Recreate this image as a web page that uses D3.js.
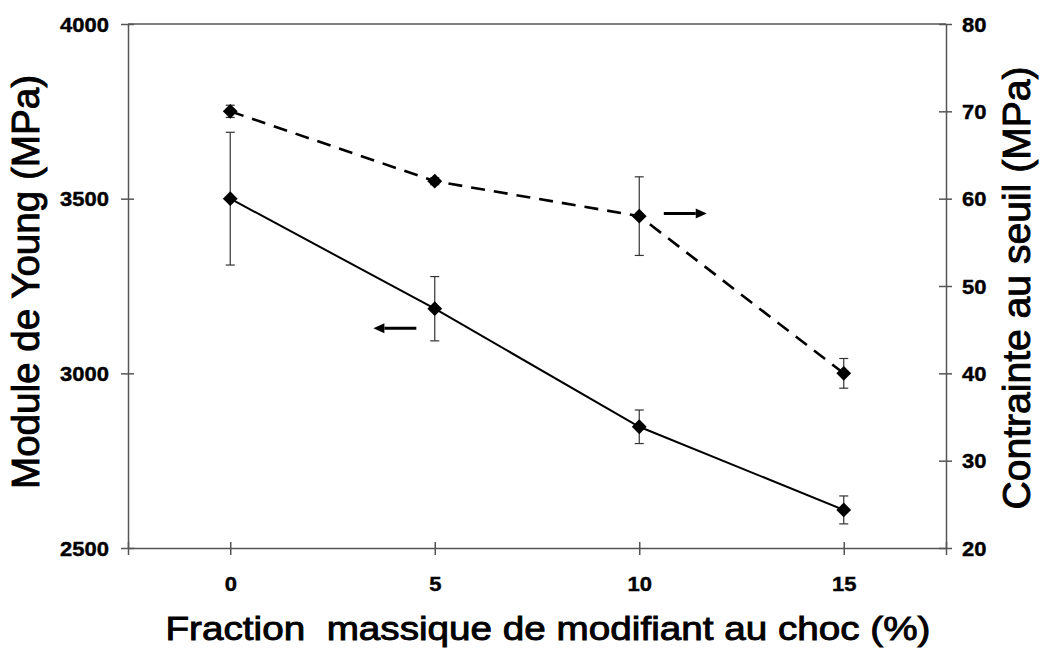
<!DOCTYPE html>
<html>
<head>
<meta charset="utf-8">
<script src="https://cdn.jsdelivr.net/npm/d3@7"></script>
<style>
  html, body { margin: 0; padding: 0; background: #fff; }
  svg { display: block; }
  text { font-family: "Liberation Sans", Arial, sans-serif; }
</style>
</head>
<body>
<svg id="chart" width="1041" height="648"></svg>
<script>
// Impact-modifier content (wt %)
const fractions = [0, 5, 10, 15];

// Young's modulus (MPa), left axis, with error half-widths
const modulus = [3500, 3185, 2847, 2609];
const modulusErr = [190, 92, 48, 40];

// Yield stress (MPa), right axis, with error half-widths
const yieldStress = [70, 62, 58, 40];
const yieldErr = [0.7, 0.4, 4.5, 1.7];

// Axis ticks
const xTicks = [-2.5, 0, 5, 10, 15, 17.5];
const xTickLabels = [0, 5, 10, 15];
const leftTicks = [2500, 3000, 3500, 4000];
const rightTicks = [20, 30, 40, 50, 60, 70, 80];

// Arrows telling which axis each curve belongs to (x in %, y in the axis units)
const arrowLeft = { x0: 4.55, x1: 3.5, y: 3129 };
const arrowRight = { x0: 10.6, x1: 11.65, y: 58.3 };

const svg = d3.select("#chart");
svg.append("rect").attr("width", 1041).attr("height", 648).attr("fill", "#fff");

const plotL = 128, plotR = 946, plotT = 24, plotB = 548;
const x = d3.scaleLinear().domain([-2.5, 17.5]).range([plotL, plotR]);
const yL = d3.scaleLinear().domain([2500, 4000]).range([plotB, plotT]);
const yR = d3.scaleLinear().domain([20, 80]).range([plotB, plotT]);

const axisColor = "#555";
const stretch = 1.1;

// Top border of the plot frame
svg.append("line")
  .attr("x1", plotL).attr("x2", plotR).attr("y1", plotT).attr("y2", plotT)
  .attr("stroke", axisColor).attr("stroke-width", 1.5);

function styleAxis(g) {
  g.select(".domain").attr("stroke", axisColor).attr("stroke-width", 1.5);
  g.selectAll(".tick line").attr("stroke", axisColor).attr("stroke-width", 1.5);
}

function tickText(sel) {
  return sel.append("text")
    .attr("fill", "#000").attr("stroke", "#000").attr("stroke-width", 0.4)
    .attr("font-size", 20).attr("font-weight", "bold")
    .attr("transform", `scale(${stretch},1)`)
    .text(d => d);
}

// Bottom axis (ticks cross the axis line)
const gx = svg.append("g").attr("transform", `translate(0,${plotB})`)
  .call(d3.axisBottom(x).tickValues(xTicks).tickSizeInner(0).tickSizeOuter(0).tickFormat(""));
gx.selectAll(".tick line").attr("y1", -6).attr("y2", 7);
styleAxis(gx);
tickText(gx.selectAll(".tick").filter(d => xTickLabels.includes(d)))
  .attr("text-anchor", "middle").attr("y", 43);

// Left axis
const gl = svg.append("g").attr("transform", `translate(${plotL},0)`)
  .call(d3.axisLeft(yL).tickValues(leftTicks).tickSizeInner(0).tickSizeOuter(0).tickFormat(""));
gl.selectAll(".tick line").attr("x1", -7).attr("x2", 6);
styleAxis(gl);
tickText(gl.selectAll(".tick"))
  .attr("text-anchor", "end").attr("x", -19 / stretch).attr("dy", "0.36em");

// Right axis
const gr = svg.append("g").attr("transform", `translate(${plotR},0)`)
  .call(d3.axisRight(yR).tickValues(rightTicks).tickSizeInner(0).tickSizeOuter(0).tickFormat(""));
gr.selectAll(".tick line").attr("x1", -7).attr("x2", 6);
styleAxis(gr);
tickText(gr.selectAll(".tick"))
  .attr("text-anchor", "start").attr("x", 16 / stretch).attr("dy", "0.36em");

// Axis titles
function title(t, len) {
  return svg.append("text")
    .attr("text-anchor", "middle").attr("font-size", 38)
    .attr("fill", "#000").attr("stroke", "#000").attr("stroke-width", 0.9)
    .attr("textLength", len).attr("lengthAdjust", "spacingAndGlyphs")
    .style("white-space", "pre")
    .text(t);
}

title("Module de Young (MPa)", 414)
  .attr("transform", "translate(39,282) rotate(-90)");

title("Contrainte au seuil (MPa)", 443)
  .attr("transform", "translate(1030,288) rotate(-90)");

title("Fraction  massique de modifiant au choc (%)", 765)
  .attr("font-size", 33)
  .attr("x", 548).attr("y", 640);

// Series drawing
function drawSeries(values, errs, yScale, dashed) {
  const pts = fractions.map((f, i) => ({ f, v: values[i], e: errs[i] }));
  const g = svg.append("g");

  // error bars
  const eb = g.selectAll("g.err").data(pts).join("g").attr("class", "err");
  eb.append("line")
    .attr("x1", d => x(d.f)).attr("x2", d => x(d.f))
    .attr("y1", d => yScale(d.v + d.e)).attr("y2", d => yScale(d.v - d.e))
    .attr("stroke", "#333").attr("stroke-width", 1.2);
  [1, -1].forEach(s => {
    eb.append("line")
      .attr("x1", d => x(d.f) - 4.5).attr("x2", d => x(d.f) + 4.5)
      .attr("y1", d => yScale(d.v + s * d.e)).attr("y2", d => yScale(d.v + s * d.e))
      .attr("stroke", "#333").attr("stroke-width", 1.2);
  });

  // connecting line
  g.append("path")
    .datum(pts)
    .attr("fill", "none").attr("stroke", "#000")
    .attr("stroke-width", dashed ? 2.6 : 2)
    .attr("stroke-dasharray", dashed ? "14,9" : null)
    .attr("d", d3.line().x(d => x(d.f)).y(d => yScale(d.v)));

  // diamond markers
  g.selectAll("path.mk").data(pts).join("path").attr("class", "mk")
    .attr("d", d3.symbol(d3.symbolSquare, 110))
    .attr("transform", d => `translate(${x(d.f)},${yScale(d.v)}) rotate(45)`)
    .attr("fill", "#000");
}

drawSeries(modulus, modulusErr, yL, false);
drawSeries(yieldStress, yieldErr, yR, true);

// Axis-indicator arrows
function arrow(a, yScale) {
  const x0 = x(a.x0), x1 = x(a.x1), yy = yScale(a.y);
  const dir = Math.sign(x1 - x0);
  const head = 11;
  svg.append("line")
    .attr("x1", x0).attr("x2", x1 - dir * head).attr("y1", yy).attr("y2", yy)
    .attr("stroke", "#000").attr("stroke-width", 3);
  svg.append("path")
    .attr("d", `M${x1},${yy} L${x1 - dir * head},${yy - 5} L${x1 - dir * head},${yy + 5} Z`)
    .attr("fill", "#000");
}
arrow(arrowLeft, yL);
arrow(arrowRight, yR);
</script>
</body>
</html>
